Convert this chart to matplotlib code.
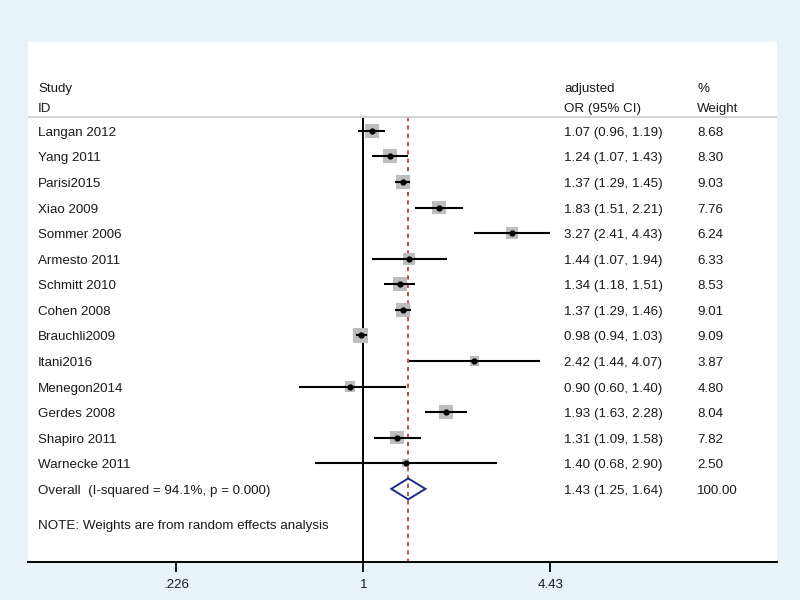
import numpy as np
import matplotlib
matplotlib.use("Agg")
from matplotlib import pyplot as plt
from matplotlib.patches import Polygon
import matplotlib.transforms as mtransforms

plt.rcParams['font.family'] = ['Liberation Sans', 'DejaVu Sans']

studies = ['Langan 2012', 'Yang 2011', 'Parisi2015', 'Xiao 2009', 'Sommer 2006',
           'Armesto 2011', 'Schmitt 2010', 'Cohen 2008', 'Brauchli2009', 'Itani2016',
           'Menegon2014', 'Gerdes 2008', 'Shapiro 2011', 'Warnecke 2011']
odds = [1.07, 1.24, 1.37, 1.83, 3.27, 1.44, 1.34, 1.37, 0.98, 2.42, 0.90, 1.93, 1.31, 1.40]
lower = [0.96, 1.07, 1.29, 1.51, 2.41, 1.07, 1.18, 1.29, 0.94, 1.44, 0.60, 1.63, 1.09, 0.68]
upper = [1.19, 1.43, 1.45, 2.21, 4.43, 1.94, 1.51, 1.46, 1.03, 4.07, 1.40, 2.28, 1.58, 2.90]
weights = [8.68, 8.30, 9.03, 7.76, 6.24, 6.33, 8.53, 9.01, 9.09, 3.87, 4.80, 8.04, 7.82, 2.50]

overall_label = 'Overall  (I-squared = 94.1%, p = 0.000)'
overall = [1.43, 1.25, 1.64]
overall_weight = '100.00'
xticks = [0.226, 1, 4.43]
xticklabels = ['.226', '1', '4.43']

txt = '#1a1a1a'
fs = 9.6
dy = 0.08  # nudge text down to line up with the marks

fig = plt.figure(figsize=(8, 6), dpi=100, facecolor='#e9f2f6')
ax = fig.add_axes([0.035, 0.0633, 0.936, 0.867])
ax.set_facecolor('white')
ax.set_xscale('log')
ax.set_xlim(0.0693, 26.9)
ax.set_ylim(16.86, -3.48)

rows = np.arange(len(studies))
n = len(studies)

# CI lines, boxes, points
ax.hlines(rows, lower, upper, color='black', lw=1.5, zorder=3)
ax.scatter(odds, rows, s=np.array(weights) * 12, marker='s', color='#bdbdbd',
           edgecolors='none', zorder=2)
ax.scatter(odds, rows, s=12, color='black', zorder=4)

# overall diamond
d = 0.41
ax.add_patch(Polygon([(overall[1], n), (overall[0], n - d), (overall[2], n),
                      (overall[0], n + d)], closed=True, fill=False,
                     edgecolor='#1c2a8c', lw=1.4, zorder=4))

# reference lines
ax.vlines(1, -0.55, 16.86, color='black', lw=1.4, zorder=1)
ax.vlines(overall[0], -0.55, 16.86, color='#b03030', lw=1.2, linestyles=(0, (2.5, 2.5)), zorder=1)

# header separator
ax.axhline(-0.55, color='#d0d0d0', lw=1.3)

trans = mtransforms.blended_transform_factory(ax.transAxes, ax.transData)
x_lab, x_or, x_w = 0.0134, 0.716, 0.894


def put(x, y, s):
    ax.text(x, y + dy, s, transform=trans, fontsize=fs, color=txt, va='center')


put(x_lab, -1.72, 'Study')
put(x_lab, -0.94, 'ID')
put(x_or, -1.72, 'adjusted')
put(x_or, -0.94, 'OR (95% CI)')
put(x_w, -1.72, '%')
put(x_w, -0.94, 'Weight')

for i in range(n):
    put(x_lab, i, studies[i])
    put(x_or, i, '%.2f (%.2f, %.2f)' % (odds[i], lower[i], upper[i]))
    put(x_w, i, '%.2f' % weights[i])

put(x_lab, n, overall_label)
put(x_or, n, '%.2f (%.2f, %.2f)' % tuple(overall))
put(x_w, n, overall_weight)
put(x_lab, 15.37, 'NOTE: Weights are from random effects analysis')

for s in ['top', 'left', 'right']:
    ax.spines[s].set_visible(False)
ax.spines['bottom'].set_linewidth(1.4)
ax.set_yticks([])
ax.set_xticks(xticks)
ax.set_xticklabels(xticklabels)
ax.xaxis.set_minor_locator(matplotlib.ticker.NullLocator())
ax.tick_params(axis='x', length=7, width=1.3, pad=5, labelsize=fs, labelcolor=txt)

fig.savefig('out.png', dpi=100, facecolor=fig.get_facecolor())
